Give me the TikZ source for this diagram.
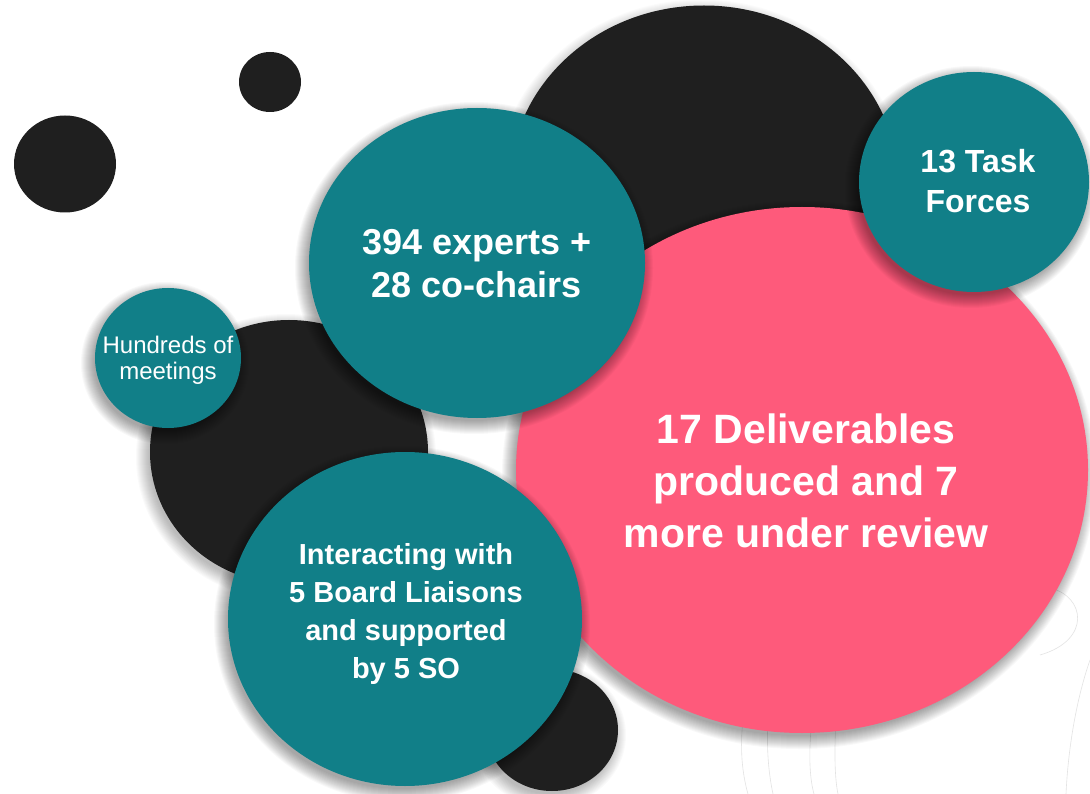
\documentclass[tikz,border=0pt]{standalone}
\usepackage{fontspec}
\setmainfont{Liberation Sans}
\usetikzlibrary{shapes.geometric}
\definecolor{tealc}{HTML}{117F88}
\definecolor{pinkc}{HTML}{FE5A7B}
\definecolor{darkc}{HTML}{1F1F1F}
\tikzset{
  bub/.style={ellipse, inner sep=0pt, outer sep=0pt, draw=none},
  rad/.style 2 args={minimum width=#1*2pt, minimum height=#2*2pt},
  lbl/.style={text=white, align=center, inner sep=0pt},
  faint/.style={draw=black!11, line width=0.6pt},
  shadring/.style={fill=black, fill opacity=#1, draw=none},
}
% soft drop shadow: cx, cy, rx, ry, opacity per ring
\newcommand\bubshadow[5]{%
  \foreach \k in {0,...,13}{%
    \fill[shadring=#5] (#1-3,#2+5) ellipse [x radius={#3pt+\k pt-2pt}, y radius={#4pt+\k pt-2pt}];%
  }%
}
\begin{document}
\begin{tikzpicture}[x=1pt,y=-1pt]
\fill[white] (0,0) rectangle (1090,794);
\useasboundingbox (0,0) rectangle (1090,794);

% faint background outline
\draw[faint] (1050,588) .. controls (1085,596) and (1092,640) .. (1040,655);
\draw[faint] (1090,660) .. controls (1076,700) and (1068,750) .. (1066,794);
\draw[faint] (743,720) .. controls (739,755) and (744,780) .. (748,794);
\draw[faint] (768,720) .. controls (766,755) and (770,780) .. (773,794);
\draw[faint] (812,720) .. controls (808,755) and (810,780) .. (814,794);
\draw[faint] (836,720) .. controls (834,755) and (835,780) .. (838,794);

% black dots
\node[bub, fill=darkc, rad={51}{48.5}] (blackA) at (65,164) {};
\node[bub, fill=darkc, rad={31}{30}] (blackB) at (270,82) {};
\bubshadow{704}{185}{194.5}{179.5}{0.015}
\node[bub, fill=darkc, rad={194.5}{179.5}] (blackC) at (704,185) {};
\bubshadow{289}{452}{139}{132}{0.018}
\node[bub, fill=darkc, rad={139}{132}] (blackG) at (289,452) {};
\bubshadow{552}{730}{66}{61}{0.018}
\node[bub, fill=darkc, rad={66}{61}] (blackI) at (552,730) {};

% pink
\bubshadow{802}{470}{286}{263}{0.028}
\node[bub, fill=pinkc, rad={286}{263}] (pink) at (802,470) {};

% teal bubbles
\bubshadow{168}{358}{73}{70}{0.026}
\node[bub, fill=tealc, rad={73}{70}] (hund) at (168,358) {};
\bubshadow{477}{263}{168}{155}{0.028}
\node[bub, fill=tealc, rad={168}{155}] (experts) at (477,263) {};
\bubshadow{974}{182}{115}{110}{0.028}
\node[bub, fill=tealc, rad={115}{110}] (task) at (974,182) {};
\bubshadow{405}{619}{177}{167}{0.028}
\node[bub, fill=tealc, rad={177}{167}] (inter) at (405,619) {};

% texts
\node[lbl, font=\bfseries\fontsize{36}{43}\selectfont] (tExperts) at (477,263.5) {394 experts +\\28 co-chairs};
\node[lbl, font=\bfseries\fontsize{41}{52}\selectfont] (tPink) at (806,481) {17 Deliverables\\produced and 7\\more under review};
\node[lbl, font=\bfseries\fontsize{32}{40}\selectfont] (tTask) at (978,181) {13 Task\\Forces};
\node[lbl, font=\bfseries\fontsize{29}{37.7}\selectfont] (tInter) at (406,614) {Interacting with\\5 Board Liaisons\\and supported\\by 5 SO};
\node[lbl, font=\fontsize{24}{26}\selectfont] (tHund) at (168,360) {Hundreds of\\meetings};
\end{tikzpicture}
\end{document}
